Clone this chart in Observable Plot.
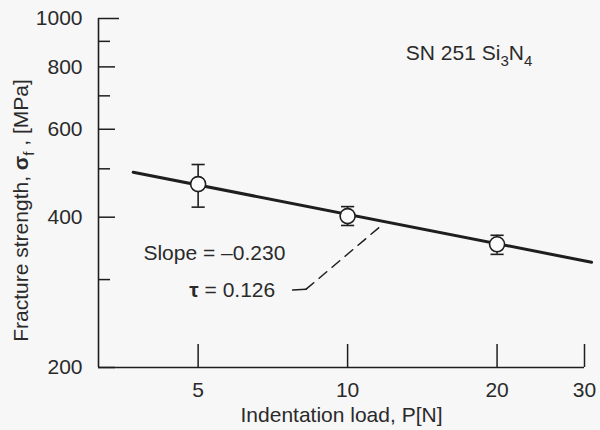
<!DOCTYPE html>
<html><head><meta charset="utf-8">
<script src="https://cdn.jsdelivr.net/npm/d3@7"></script>
<script src="https://cdn.jsdelivr.net/npm/@observablehq/plot@0.6"></script>
<style>
html,body{margin:0;padding:0;background:#f7f7f7;}
#chart svg{display:block;}
</style>
</head><body><div id="chart"></div>
<script>
// ---- data ----
const loads = [5, 10, 20];
const strength = [466, 402, 353];
const errLow = [419, 385, 337];
const errHigh = [510, 420, 368];
const fitLoad = [3.7, 31];
const fitStrength = [492, 325];
const leaderSolidLoad = [7.75, 8.25];
const leaderSolidStrength = [286, 287];
const leaderDashLoad = [8.25, 11.7];
const leaderDashStrength = [287, 385];
const yTicks = [200, 400, 600, 800];
const yTopTick = [1000];
const yMinorTicks = [300, 500, 700, 900];
const yTickLabels = [200, 400, 600, 800, 1000];
const xTicks = [5, 10, 20, 30];
const xDomain = [3.15, 30];
const yDomain = [200, 1000];
const titleText = "SN 251 Si_3N_4";
const titlePos = [13.1, 850];
const slopeText = "Slope = –0.230";
const slopePos = [3.88, 338];
const tauText = "τ = 0.126";
const tauPos = [4.8, 285];
const xLabel = "Indentation load, P[N]";
const yLabel = "Fracture strength, σ_f , [MPa]";

const pts = loads.map((P, i) => ({P, s: strength[i], lo: errLow[i], hi: errHigh[i]}));
const fit = fitLoad.map((P, i) => ({P, s: fitStrength[i]}));
const leadSolid = leaderSolidLoad.map((P, i) => ({P, s: leaderSolidStrength[i]}));
const leadDash = leaderDashLoad.map((P, i) => ({P, s: leaderDashStrength[i]}));

const W = 600, H = 430, mL = 98, mR = 16, mT = 18, mB = 63;
const fw = W - mL - mR, fh = H - mT - mB;
const ink = "#1e1e1e";
const txt = "#2a2a2a";
const FS = 21;
const capK = 1.031;

const svg = Plot.plot({
  width: W, height: H,
  marginLeft: mL, marginRight: mR, marginTop: mT, marginBottom: mB,
  style: {background: "#f7f7f7", fontFamily: "'Liberation Sans', Arial, Helvetica, sans-serif", fontSize: FS + "px", color: txt},
  x: {type: "log", domain: xDomain},
  y: {type: "log", domain: yDomain},
  marks: [
    // axis lines
    Plot.ruleX([xDomain[0]], {stroke: ink, strokeWidth: 1.6}),
    Plot.ruleY([yDomain[0]], {stroke: ink, strokeWidth: 1.6}),
    // inward ticks
    Plot.tickY(yTicks, {y: d => d, insetRight: fw - 17, stroke: ink, strokeWidth: 1.5}),
    Plot.tickY(yTopTick, {y: d => d, insetRight: fw - 21, stroke: ink, strokeWidth: 1.5}),
    Plot.tickY(yMinorTicks, {y: d => d, insetRight: fw - 12, stroke: ink, strokeWidth: 1.5}),
    Plot.tickX(xTicks, {x: d => d, insetTop: fh - 23, stroke: ink, strokeWidth: 1.5}),
    // tick labels
    Plot.axisY(yTickLabels, {tickSize: 0, tickPadding: 16, tickFormat: d => String(d), label: null, fontSize: FS, fill: txt}),
    Plot.axisX(xTicks, {tickSize: 0, tickPadding: 15, tickFormat: d => String(d), label: null, fontSize: FS, fill: txt}),
    // axis titles
    Plot.text([xLabel], {text: d => d, frameAnchor: "bottom", dy: 48, textAnchor: "middle", lineAnchor: "middle", fontSize: FS, fill: txt}),
    Plot.text([yLabel], {text: d => d, frameAnchor: "left", dx: -77.5, dy: 17.5, rotate: -90, textAnchor: "middle", lineAnchor: "middle", fontSize: FS, fill: txt}),
    // fit line
    Plot.line(fit, {x: "P", y: "s", stroke: ink, strokeWidth: 3}),
    // leader
    Plot.line(leadSolid, {x: "P", y: "s", stroke: ink, strokeWidth: 1.5}),
    Plot.line(leadDash, {x: "P", y: "s", stroke: ink, strokeWidth: 1.5, strokeDasharray: "10,7"}),
    // error bars
    Plot.ruleX(pts, {x: "P", y1: "lo", y2: "hi", stroke: ink, strokeWidth: 1.6}),
    Plot.link(pts, {x1: d => d.P / capK, x2: d => d.P * capK, y1: "hi", y2: "hi", stroke: ink, strokeWidth: 1.6}),
    Plot.link(pts, {x1: d => d.P / capK, x2: d => d.P * capK, y1: "lo", y2: "lo", stroke: ink, strokeWidth: 1.6}),
    // points
    Plot.dot(pts, {x: "P", y: "s", r: 7.5, fill: "#fbfbfb", stroke: ink, strokeWidth: 1.6}),
    // annotations
    Plot.text([titleText], {x: () => titlePos[0], y: () => titlePos[1], text: d => d, textAnchor: "start", lineAnchor: "middle", fontSize: FS, fill: txt}),
    Plot.text([slopeText], {x: () => slopePos[0], y: () => slopePos[1], text: d => d, textAnchor: "start", lineAnchor: "middle", fontSize: FS, fill: txt}),
    Plot.text([tauText], {x: () => tauPos[0], y: () => tauPos[1], text: d => d, textAnchor: "start", lineAnchor: "middle", fontSize: FS, fill: txt})
  ]
});

// rich text: "_x" -> subscript x ; Greek σ τ -> bold
d3.select(svg).selectAll("text").each(function() {
  const el = this;
  if (el.querySelector("tspan")) return;
  const s = el.textContent;
  if (!/[_στ]/.test(s)) return;
  const segs = [];
  for (let i = 0; i < s.length; i++) {
    let c = s[i], sub = false;
    if (c === "_" && i + 1 < s.length) { sub = true; c = s[++i]; }
    const bold = /[στ]/.test(c);
    const last = segs[segs.length - 1];
    if (last && last.sub === sub && last.bold === bold) last.t += c;
    else segs.push({t: c, sub, bold});
  }
  el.textContent = "";
  let shifted = false;
  for (const g of segs) {
    const ts = d3.select(el).append("tspan").text(g.t);
    if (g.sub && !shifted) { ts.attr("dy", 6); shifted = true; }
    else if (!g.sub && shifted) { ts.attr("dy", -6); shifted = false; }
    if (g.sub) ts.attr("font-size", Math.round(FS * 0.72));
    if (g.bold) ts.attr("font-weight", "bold");
  }
});

document.getElementById("chart").append(svg);
</script>
</body></html>
